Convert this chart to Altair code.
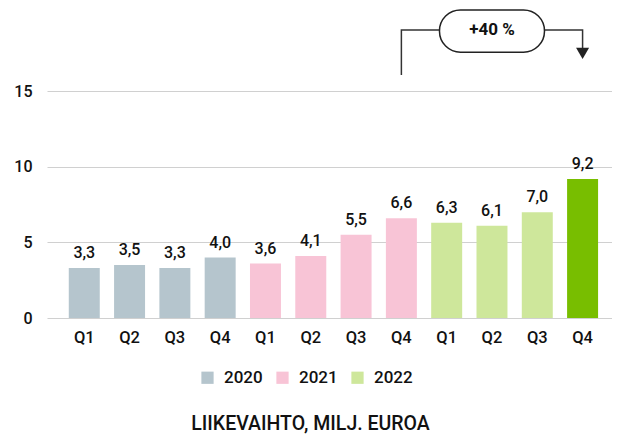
import altair as alt
import pandas as pd

years = ["2020"] * 4 + ["2021"] * 4 + ["2022"] * 4
quarters = ["Q1", "Q2", "Q3", "Q4"] * 3
values = [3.3, 3.5, 3.3, 4.0, 3.6, 4.1, 5.5, 6.6, 6.3, 6.1, 7.0, 9.2]
highlight = [False] * 11 + [True]
year_domain = ["2020", "2021", "2022"]
year_colors = ["#b5c5cd", "#f8c4d6", "#cee79b"]
highlight_color = "#78be00"
y_ticks = [0, 5, 10, 15]
title_text = "LIIKEVAIHTO, MILJ. EUROA"

change_label = "+40 %"
change_from = "2021-Q4"
change_to = "2022-Q4"
change_mid = "2022-Q2"

FONT = "Roboto"
INK = "#111111"

keys = [f"{y}-{q}" for y, q in zip(years, quarters)]
df = pd.DataFrame({"key": keys, "year": years, "q": quarters, "value": values, "hl": highlight})
df["label"] = [f"{v:.1f}".replace(".", ",") for v in values]

xscale = alt.Scale(domain=keys, paddingInner=0.316, paddingOuter=0.394, align=0.61)
yscale = alt.Scale(domain=[0, 20.44], nice=False, zero=True)

x_enc = alt.X("key:N", scale=xscale, sort=keys,
              axis=alt.Axis(title=None, labelExpr="split(datum.label,'-')[1]", labelAngle=0,
                            domain=False, ticks=False, labelPadding=11, labelFontSize=16.5,
                            labelFont=FONT, labelColor=INK, labelFontWeight=500, grid=False))

bars = alt.Chart(df).mark_bar().encode(
    x=x_enc,
    y=alt.Y("value:Q", scale=yscale,
            axis=alt.Axis(title=None, values=y_ticks, grid=True, gridColor="#d0d0d0", gridWidth=1.2,
                          domain=False, ticks=False, labelPadding=15, labelFontSize=16,
                          labelFont=FONT, labelColor=INK, labelFontWeight=500)),
    color=alt.condition(
        "datum.hl",
        alt.value(highlight_color),
        alt.Color("year:N", scale=alt.Scale(domain=year_domain, range=year_colors),
                  legend=alt.Legend(title=None, orient="none", legendX=152, legendY=360,
                                    direction="horizontal", symbolType="square", symbolSize=150,
                                    symbolStrokeWidth=0, labelFontSize=17, labelFont=FONT,
                                    labelColor=INK, labelFontWeight=500, columnPadding=11,
                                    symbolOffset=0, labelOffset=8)),
    ),
)

labels = alt.Chart(df).mark_text(baseline="bottom", dy=-7, fontSize=16, font=FONT,
                                  fontWeight=500, color=INK).encode(
    x=alt.X("key:N", scale=xscale, sort=keys),
    y=alt.Y("value:Q", scale=yscale),
    text="label:N",
)

line_df = pd.DataFrame({
    "key": [change_from, change_from, change_to, change_to],
    "y": [16.07, 19.05, 19.05, 17.75],
    "o": [0, 1, 2, 3],
})
conn = alt.Chart(line_df).mark_line(color="#333333", strokeWidth=1.5).encode(
    x=alt.X("key:N", scale=xscale, sort=keys),
    y=alt.Y("y:Q", scale=yscale),
    order="o:Q",
)

arrow_df = pd.DataFrame({"key": [change_to], "y": [17.5]})
arrow = alt.Chart(arrow_df).mark_point(shape="triangle-down", filled=True, color="#222222",
                                       size=170, opacity=1).encode(
    x=alt.X("key:N", scale=xscale, sort=keys),
    y=alt.Y("y:Q", scale=yscale),
)

box_df = pd.DataFrame({"key": [change_mid], "y": [17.58], "y2": [20.38], "t": [change_label], "yc": [19.05]})
box = alt.Chart(box_df).mark_bar(width=105, cornerRadius=21, fill="white", stroke="#222222",
                                 strokeWidth=1.5).encode(
    x=alt.X("key:N", scale=xscale, sort=keys),
    y=alt.Y("y:Q", scale=yscale),
    y2="y2:Q",
)
box_text = alt.Chart(box_df).mark_text(fontSize=17, font=FONT, fontWeight="bold", color=INK).encode(
    x=alt.X("key:N", scale=xscale, sort=keys),
    y=alt.Y("yc:Q", scale=yscale),
    text="t:N",
)

chart = alt.layer(bars, labels, conn, arrow, box, box_text).properties(
    width=565, height=309,
    padding={"left": 5, "top": 1, "right": 0, "bottom": 0},
    title=alt.TitleParams(title_text, orient="bottom", anchor="middle",
                          fontSize=19.5, font=FONT, fontWeight=500, color=INK, offset=29, dx=-19),
).configure_view(stroke=None)

chart.save("out.html", embed_options={"renderer": "svg", "actions": False})
